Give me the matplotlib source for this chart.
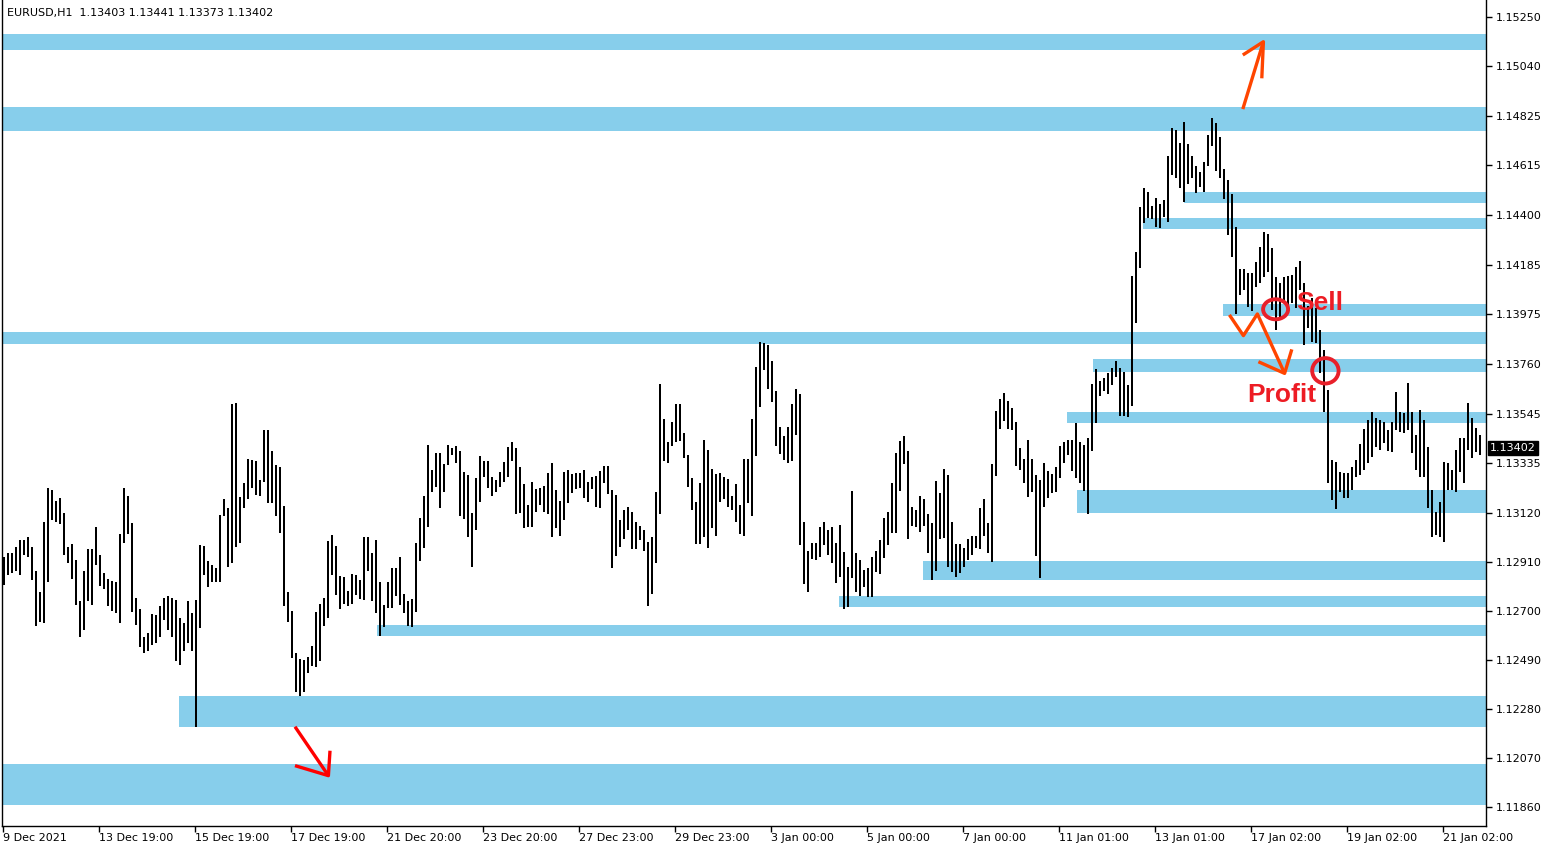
import numpy as np
import matplotlib
matplotlib.use('Agg')
import matplotlib.pyplot as plt
from matplotlib.patches import Ellipse

highs = [
    1.12935, 1.12949, 1.12949, 1.12978, 1.13007, 1.13007, 1.13021, 1.12974, 1.12875, 1.12785,
    1.13085, 1.13228, 1.13221, 1.13175, 1.13185, 1.13121, 1.12978, 1.12988, 1.12921, 1.12745,
    1.12871, 1.12968, 1.12968, 1.13064, 1.12942, 1.12866, 1.12838, 1.12831, 1.12828, 1.13032,
    1.13228, 1.13193, 1.13078, 1.12756, 1.12709, 1.12589, 1.12606, 1.12688, 1.12685, 1.12721,
    1.12756, 1.12764, 1.12756, 1.12749, 1.12673, 1.12652, 1.12745, 1.12692, 1.12749, 1.12985,
    1.12981, 1.12916, 1.12899, 1.12885, 1.13114, 1.13183, 1.13142, 1.13590, 1.13593, 1.13190,
    1.13250, 1.13353, 1.13350, 1.13343, 1.13264, 1.13479, 1.13479, 1.13388, 1.13328, 1.13318,
    1.13150, 1.12785, 1.12703, 1.12523, 1.12496, 1.12492, 1.12506, 1.12552, 1.12699, 1.12732,
    1.12756, 1.13002, 1.13028, 1.12981, 1.12852, 1.12846, 1.12789, 1.12861, 1.12856, 1.12835,
    1.13017, 1.13021, 1.12952, 1.13007, 1.12828, 1.12728, 1.12824, 1.12888, 1.12888, 1.12935,
    1.12775, 1.12746, 1.12753, 1.12995, 1.13100, 1.13193, 1.13414, 1.13307, 1.13381, 1.13378,
    1.13333, 1.13414, 1.13400, 1.13410, 1.13386, 1.13300, 1.13285, 1.13121, 1.13274, 1.13367,
    1.13346, 1.13347, 1.13278, 1.13264, 1.13300, 1.13342, 1.13407, 1.13425, 1.13402, 1.13321,
    1.13246, 1.13156, 1.13254, 1.13225, 1.13228, 1.13238, 1.13292, 1.13335, 1.13221, 1.13173,
    1.13299, 1.13306, 1.13288, 1.13292, 1.13295, 1.13306, 1.13256, 1.13278, 1.13282, 1.13303,
    1.13324, 1.13324, 1.13221, 1.13199, 1.13092, 1.13135, 1.13149, 1.13128, 1.13085, 1.13068,
    1.13049, 1.12996, 1.13020, 1.13211, 1.13675, 1.13525, 1.13425, 1.13514, 1.13590, 1.13590,
    1.13464, 1.13371, 1.13271, 1.13171, 1.13252, 1.13435, 1.13392, 1.13311, 1.13289, 1.13295,
    1.13278, 1.13268, 1.13195, 1.13246, 1.13156, 1.13354, 1.13354, 1.13525, 1.13750, 1.13854,
    1.13850, 1.13843, 1.13774, 1.13645, 1.13489, 1.13452, 1.13489, 1.13590, 1.13652, 1.13631,
    1.13082, 1.12959, 1.12995, 1.12992, 1.13060, 1.13082, 1.13049, 1.13060, 1.12992, 1.13070,
    1.12956, 1.12889, 1.13216, 1.12952, 1.12920, 1.12877, 1.12885, 1.12932, 1.12959, 1.13006,
    1.13099, 1.13128, 1.13249, 1.13381, 1.13431, 1.13452, 1.13388, 1.13149, 1.13135, 1.13195,
    1.13182, 1.13118, 1.13080, 1.13259, 1.13206, 1.13309, 1.13285, 1.13082, 1.12988, 1.12989,
    1.12970, 1.13009, 1.13025, 1.13025, 1.13145, 1.13181, 1.13078, 1.13332, 1.13560, 1.13611,
    1.13636, 1.13603, 1.13571, 1.13511, 1.13400, 1.13352, 1.13435, 1.13352, 1.13285, 1.13264,
    1.13335, 1.13302, 1.13289, 1.13318, 1.13410, 1.13425, 1.13435, 1.13435, 1.13507, 1.13425,
    1.13414, 1.13442, 1.13676, 1.13738, 1.13690, 1.13700, 1.13721, 1.13746, 1.13774, 1.13743,
    1.13726, 1.13671, 1.14139, 1.14240, 1.14436, 1.14515, 1.14501, 1.14441, 1.14472, 1.14446,
    1.14465, 1.14654, 1.14772, 1.14765, 1.14708, 1.14801, 1.14705, 1.14654, 1.14611, 1.14584,
    1.14629, 1.14744, 1.14815, 1.14794, 1.14734, 1.14596, 1.14551, 1.14491, 1.14348, 1.14167,
    1.14167, 1.14153, 1.14153, 1.14200, 1.14265, 1.14329, 1.14318, 1.14258, 1.14136, 1.14107,
    1.14136, 1.14139, 1.14143, 1.14179, 1.14203, 1.14107, 1.14010, 1.14043, 1.14000, 1.13907,
    1.13821, 1.13650, 1.13350, 1.13342, 1.13300, 1.13292, 1.13292, 1.13321, 1.13350, 1.13418,
    1.13481, 1.13521, 1.13557, 1.13528, 1.13521, 1.13514, 1.13478, 1.13514, 1.13643, 1.13557,
    1.13550, 1.13678, 1.13557, 1.13457, 1.13564, 1.13521, 1.13407, 1.13221, 1.13128, 1.13171,
    1.13342, 1.13335, 1.13307, 1.13392, 1.13442, 1.13442, 1.13593, 1.13528, 1.13485, 1.13457,
]

lows = [
    1.12814, 1.12856, 1.12866, 1.12875, 1.12856, 1.12942, 1.12935, 1.12835, 1.12638, 1.12656,
    1.12652, 1.12828, 1.13092, 1.13085, 1.13075, 1.12942, 1.12909, 1.12839, 1.12728, 1.12592,
    1.12621, 1.12746, 1.12728, 1.12899, 1.12809, 1.12795, 1.12723, 1.12703, 1.12692, 1.12652,
    1.12995, 1.13032, 1.12699, 1.12642, 1.12546, 1.12523, 1.12528, 1.12556, 1.12566, 1.12592,
    1.12661, 1.12621, 1.12592, 1.12488, 1.12470, 1.12528, 1.12563, 1.12528, 1.12204, 1.12628,
    1.12856, 1.12804, 1.12828, 1.12824, 1.12824, 1.13107, 1.12892, 1.12907, 1.12975, 1.12995,
    1.13142, 1.13181, 1.13228, 1.13200, 1.13193, 1.13253, 1.13164, 1.13164, 1.13107, 1.13038,
    1.12723, 1.12656, 1.12499, 1.12356, 1.12335, 1.12356, 1.12435, 1.12466, 1.12460, 1.12489,
    1.12635, 1.12671, 1.12854, 1.12771, 1.12709, 1.12731, 1.12721, 1.12731, 1.12771, 1.12752,
    1.12749, 1.12871, 1.12746, 1.12695, 1.12596, 1.12632, 1.12713, 1.12716, 1.12764, 1.12728,
    1.12695, 1.12638, 1.12632, 1.12699, 1.12914, 1.12971, 1.13060, 1.13214, 1.13235, 1.13145,
    1.13214, 1.13328, 1.13371, 1.13336, 1.13107, 1.13095, 1.13018, 1.12889, 1.13050, 1.13171,
    1.13275, 1.13228, 1.13193, 1.13214, 1.13235, 1.13256, 1.13278, 1.13345, 1.13116, 1.13123,
    1.13059, 1.13063, 1.13063, 1.13125, 1.13156, 1.13128, 1.13118, 1.13018, 1.13059, 1.13025,
    1.13092, 1.13166, 1.13206, 1.13223, 1.13228, 1.13188, 1.13171, 1.13223, 1.13146, 1.13145,
    1.13252, 1.13202, 1.12885, 1.12939, 1.12978, 1.13010, 1.13049, 1.12966, 1.12969, 1.13006,
    1.12960, 1.12724, 1.12773, 1.12909, 1.13116, 1.13345, 1.13335, 1.13409, 1.13428, 1.13431,
    1.13359, 1.13235, 1.13135, 1.12988, 1.12988, 1.13018, 1.12973, 1.13056, 1.13025, 1.13171,
    1.13181, 1.13149, 1.13135, 1.13082, 1.13030, 1.13025, 1.13166, 1.13110, 1.13366, 1.13578,
    1.13735, 1.13654, 1.13600, 1.13409, 1.13375, 1.13349, 1.13338, 1.13345, 1.13457, 1.12985,
    1.12817, 1.12784, 1.12925, 1.12920, 1.12935, 1.12985, 1.12942, 1.12906, 1.12820, 1.12849,
    1.12710, 1.12720, 1.12844, 1.12784, 1.12767, 1.12806, 1.12760, 1.12763, 1.12870, 1.12860,
    1.12927, 1.12985, 1.13038, 1.13035, 1.13218, 1.13332, 1.13009, 1.13066, 1.13060, 1.13039,
    1.13066, 1.12952, 1.12835, 1.12874, 1.13009, 1.13013, 1.12892, 1.12870, 1.12849, 1.12863,
    1.12892, 1.12920, 1.12942, 1.12970, 1.12966, 1.13025, 1.12949, 1.12913, 1.13281, 1.13482,
    1.13518, 1.13482, 1.13478, 1.13324, 1.13307, 1.13252, 1.13192, 1.13214, 1.12939, 1.12842,
    1.13149, 1.13188, 1.13209, 1.13214, 1.13271, 1.13335, 1.13371, 1.13304, 1.13274, 1.13249,
    1.13218, 1.13116, 1.13390, 1.13510, 1.13626, 1.13647, 1.13631, 1.13671, 1.13707, 1.13540,
    1.13540, 1.13535, 1.13583, 1.13936, 1.14175, 1.14368, 1.14386, 1.14383, 1.14348, 1.14343,
    1.14393, 1.14372, 1.14572, 1.14558, 1.14518, 1.14458, 1.14534, 1.14561, 1.14496, 1.14519,
    1.14501, 1.14611, 1.14697, 1.14589, 1.14561, 1.14469, 1.14315, 1.14222, 1.13976, 1.14057,
    1.14079, 1.14007, 1.13990, 1.14093, 1.14107, 1.14136, 1.14157, 1.13993, 1.13907, 1.13965,
    1.14022, 1.13993, 1.14022, 1.14000, 1.14079, 1.13843, 1.13914, 1.13857, 1.13850, 1.13721,
    1.13557, 1.13252, 1.13178, 1.13139, 1.13214, 1.13185, 1.13185, 1.13221, 1.13278, 1.13285,
    1.13307, 1.13335, 1.13364, 1.13407, 1.13392, 1.13421, 1.13390, 1.13385, 1.13478, 1.13471,
    1.13464, 1.13478, 1.13378, 1.13307, 1.13278, 1.13278, 1.13142, 1.13021, 1.13028, 1.13021,
    1.12999, 1.13221, 1.13221, 1.13214, 1.13300, 1.13249, 1.13392, 1.13357, 1.13385, 1.13371,
]

price_ticks = [1.15250, 1.15040, 1.14825, 1.14615, 1.14400, 1.14185, 1.13975, 1.13760, 1.13545,
               1.13335, 1.13120, 1.12910, 1.12700, 1.12490, 1.12280, 1.12070, 1.11860]

date_labels = ['9 Dec 2021', '13 Dec 19:00', '15 Dec 19:00', '17 Dec 19:00', '21 Dec 20:00',
               '23 Dec 20:00', '27 Dec 23:00', '29 Dec 23:00', '3 Jan 00:00', '5 Jan 00:00',
               '7 Jan 00:00', '11 Jan 01:00', '13 Jan 01:00', '17 Jan 02:00', '19 Jan 02:00',
               '21 Jan 02:00']

# support / resistance zones (price top, price bottom, starting hour; None = whole chart)
zone_top = [1.15177, 1.14864, 1.14500, 1.14389, 1.14019, 1.13900, 1.13783,
            1.13555, 1.13221, 1.12916, 1.12766, 1.12642, 1.12337, 1.12045]
zone_bottom = [1.15108, 1.14761, 1.14453, 1.14341, 1.13967, 1.13847, 1.13728,
               1.13510, 1.13123, 1.12835, 1.12720, 1.12596, 1.12205, 1.11867]
zone_start = [None, None, 590.5, 570, 610, None, 545,
              532, 537, 460, 418, 187, 88, None]

header = 'EURUSD,H1  1.13403 1.13441 1.13373 1.13402'
last_price = 1.13402

# hand drawn marks (hour, price)
up_arrow_x = [[619.9, 630.2], [619.9, 630.2, 629.4]]
up_arrow_y = [[1.14855, 1.15144], [1.15087, 1.15144, 1.14987]]
down_arrow_x = [[146.0, 162.7], [146.0, 162.7, 163.5]]
down_arrow_y = [[1.12205, 1.11995], [1.12038, 1.11995, 1.12102]]
zigzag_x = [[613.2, 620.2, 627.2, 640.8], [627.7, 640.8, 644.4]]
zigzag_y = [[1.13972, 1.13883, 1.13976, 1.13721], [1.13771, 1.13721, 1.13824]]


def make_chart():
    fig = plt.figure(figsize=(15.5, 8.5), dpi=100)
    ax = fig.add_axes([2 / 1550, 24 / 850, 1484 / 1550, 826 / 850])

    x_left, x_right = -0.5, 741.5
    ax.set_xlim(x_left, x_right)
    ax.set_ylim(1.11779, 1.15323)

    # zones
    for top, bot, start in zip(zone_top, zone_bottom, zone_start):
        s = x_left if start is None else start
        ax.fill_between([s, x_right], bot, top, color='#87CEEB', lw=0, zorder=1)

    # price bars
    hours = np.arange(len(highs)) * 2 + 0.5
    ax.vlines(hours, lows, highs, colors='black', lw=1.4, zorder=2, antialiased=False)

    # arrows, circles, words
    for xs, ys in zip(up_arrow_x, up_arrow_y):
        ax.plot(xs, ys, color='#FF4500', lw=2.4, zorder=5, solid_capstyle='butt')
    for xs, ys in zip(zigzag_x, zigzag_y):
        ax.plot(xs, ys, color='#FF4500', lw=2.4, zorder=5, solid_capstyle='butt')
    for xs, ys in zip(down_arrow_x, down_arrow_y):
        ax.plot(xs, ys, color='#FF0000', lw=2.4, zorder=5, solid_capstyle='butt')

    ax.add_patch(Ellipse((636.3, 1.13996), 12.5, 0.00086, fill=False,
                         ec='#E8202A', lw=2.8, zorder=6))
    ax.add_patch(Ellipse((661.2, 1.13732), 13.2, 0.00109, fill=False,
                         ec='#E8202A', lw=2.8, zorder=6))
    ax.text(646.8, 1.13993, 'Sell', color='#ED1C24', fontsize=19, fontweight='bold',
            family='Liberation Sans', va='baseline', ha='left', zorder=7)
    ax.text(622.3, 1.13600, 'Profit', color='#ED1C24', fontsize=19, fontweight='bold',
            family='Liberation Sans', va='baseline', ha='left', zorder=7)

    # axes look
    ax.spines['top'].set_visible(False)
    for side in ['left', 'right', 'bottom']:
        ax.spines[side].set_linewidth(1.0)
    ax.yaxis.tick_right()
    ax.set_yticks(price_ticks, [f'{p:.5f}' for p in price_ticks])
    ax.set_xticks(np.arange(len(date_labels)) * 48, date_labels, ha='left')
    ax.tick_params(axis='y', direction='out', length=4, width=1, pad=3, labelsize=8)
    ax.tick_params(axis='x', direction='out', length=4, width=1, pad=1, labelsize=8)

    # last price tag
    ax.text(1.0 + 4 / 1484, last_price, f'{last_price:.5f}', transform=ax.get_yaxis_transform(),
            color='white', fontsize=8, va='center', ha='left', zorder=8,
            bbox=dict(boxstyle='square,pad=0.2', facecolor='black', edgecolor='black'))

    fig.text(7 / 1550, 1 - 13 / 850, header, fontsize=8, va='center', ha='left')

    fig.savefig('out.png', dpi=100)


make_chart()
